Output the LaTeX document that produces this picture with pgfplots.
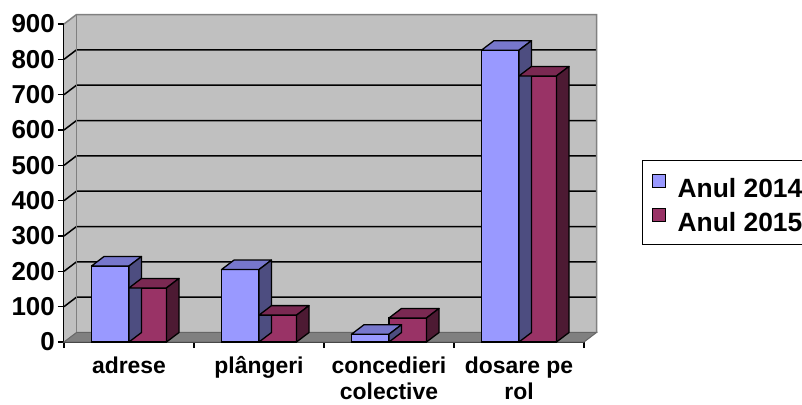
\documentclass[border=0pt]{standalone}
\usepackage{pgfplots}
\pgfplotsset{compat=1.18}
\usepackage{fontspec}
\setmainfont{Liberation Sans}
\definecolor{c14}{HTML}{9999FF}
\definecolor{c14t}{HTML}{7777CC}
\definecolor{c14s}{HTML}{4D4D80}
\definecolor{c15}{HTML}{993366}
\definecolor{c15t}{HTML}{7A2952}
\definecolor{c15s}{HTML}{4D1A33}
\definecolor{wallc}{HTML}{C0C0C0}
\definecolor{floorc}{HTML}{808080}
\begin{document}
\begin{tikzpicture}[font=\fontsize{24}{26}\selectfont\bfseries]
\useasboundingbox (0,0) rectangle (802bp,405bp);
\begin{axis}[
  at={(64bp,63bp)}, anchor=south west,
  scale only axis, width=520bp, height=318bp,
  xmin=-0.5, xmax=3.5, ymin=0, ymax=900,
  clip=false,
  axis lines*=left,
  axis line style={black, line width=1.5bp},
  tick style={black, line width=1.5bp},
  tick align=outside,
  major tick length=6bp,
  ytick={0,100,...,900},
  /pgf/number format/assume math mode=true,
  yticklabel style={anchor=east, inner sep=0pt, xshift=-3bp, font=\fontsize{26}{28}\selectfont\bfseries},
  xtick={-0.5,0.5,1.5,2.5,3.5},
  xticklabels={},
  extra x ticks={0,1,2,3},
  extra x tick labels={{\strut adrese},{\strut plângeri},{\strut concedieri\\colective},{\strut dosare pe\\rol}},
  extra x tick style={major tick length=0pt, xticklabel style={anchor=north, align=center, inner sep=0pt, yshift=-13bp, font=\fontsize{23}{26}\selectfont\bfseries}},
  legend style={at={(axis description cs:1.1115,0.5723)}, anchor=north west, draw=black, line width=1bp,
    inner xsep=10bp, inner ysep=13bp, row sep=10bp,
    font=\fontsize{26.5}{28}\selectfont\bfseries,
    nodes={inner sep=0pt, text height=17bp, text depth=0bp}},
  legend cell align=left,
]
% walls and floor
\fill[wallc] ([shift={(12.5bp,9.5bp)}]axis cs:-0.5,0) rectangle ([shift={(12.5bp,9.5bp)}]axis cs:3.5,900);
\fill[wallc] (axis cs:-0.5,0) -- ([shift={(12.5bp,9.5bp)}]axis cs:-0.5,0) -- ([shift={(12.5bp,9.5bp)}]axis cs:-0.5,900) -- (axis cs:-0.5,900) -- cycle;
\filldraw[fill=floorc, draw=floorc!80!black, line width=1bp] (axis cs:-0.5,0) -- (axis cs:3.5,0) -- ([shift={(12.5bp,9.5bp)}]axis cs:3.5,0) -- ([shift={(12.5bp,9.5bp)}]axis cs:-0.5,0) -- cycle;
\pgfplotsinvokeforeach{100,200,300,400,500,600,700,800}{
  \draw[black, line width=1.5bp] (axis cs:-0.5,#1) -- ([shift={(12.5bp,9.5bp)}]axis cs:-0.5,#1) -- ([shift={(12.5bp,9.5bp)}]axis cs:3.5,#1);
}
\draw[floorc, line width=1.5bp] (axis cs:-0.5,900) -- ([shift={(12.5bp,9.5bp)}]axis cs:-0.5,900) -- ([shift={(12.5bp,9.5bp)}]axis cs:3.5,900) -- ([shift={(12.5bp,9.5bp)}]axis cs:3.5,0);
\draw[floorc, line width=1bp] ([shift={(12.5bp,9.5bp)}]axis cs:-0.5,0) -- ([shift={(12.5bp,9.5bp)}]axis cs:-0.5,900);

% Anul 2014
\addplot[ybar, bar width=37.5bp, bar shift=-18.75bp, fill=c14, draw=black, line width=1.3bp,
  legend image code/.code={\draw[fill=c14, draw=black, line width=1bp] (0bp,2bp) rectangle (13bp,15bp); \path (24bp,8bp);}]
  coordinates {(0,215) (1,205) (2,22) (3,826)};
\addlegendentry{Anul 2014}
\addplot[forget plot, only marks, scatter, mark=*, mark size=0pt,
  visualization depends on={rawy \as \ry},
  scatter/@pre marker code/.code={
    \pgfmathsetlengthmacro{\h}{0.353333*\ry*1bp}
    \filldraw[fill=c14t, draw=black, line width=1.3bp, line join=round] (-37.5bp,0pt) -- (0pt,0pt) -- (12.5bp,9.5bp) -- (-25bp,9.5bp) -- cycle;
    \filldraw[fill=c14s, draw=black, line width=1.3bp, line join=round] (0pt,0pt) -- (12.5bp,9.5bp) -- (12.5bp,{9.5bp-\h}) -- (0pt,-\h) -- cycle;
  },
  scatter/@post marker code/.code={}]
  coordinates {(0,215) (1,205) (2,22) (3,826)};

% Anul 2015
\addplot[ybar, bar width=37.5bp, bar shift=18.75bp, fill=c15, draw=black, line width=1.3bp,
  legend image code/.code={\draw[fill=c15, draw=black, line width=1bp] (0bp,2bp) rectangle (13bp,15bp); \path (24bp,8bp);}]
  coordinates {(0,153) (1,76) (2,68) (3,753)};
\addlegendentry{Anul 2015}
\addplot[forget plot, only marks, scatter, mark=*, mark size=0pt,
  visualization depends on={rawy \as \ry},
  scatter/@pre marker code/.code={
    \pgfmathsetlengthmacro{\h}{0.353333*\ry*1bp}
    \filldraw[fill=c15t, draw=black, line width=1.3bp, line join=round] (0pt,0pt) -- (37.5bp,0pt) -- (50bp,9.5bp) -- (12.5bp,9.5bp) -- cycle;
    \filldraw[fill=c15s, draw=black, line width=1.3bp, line join=round] (37.5bp,0pt) -- (50bp,9.5bp) -- (50bp,{9.5bp-\h}) -- (37.5bp,-\h) -- cycle;
  },
  scatter/@post marker code/.code={}]
  coordinates {(0,153) (1,76) (2,68) (3,753)};
\end{axis}
\end{tikzpicture}
\end{document}
